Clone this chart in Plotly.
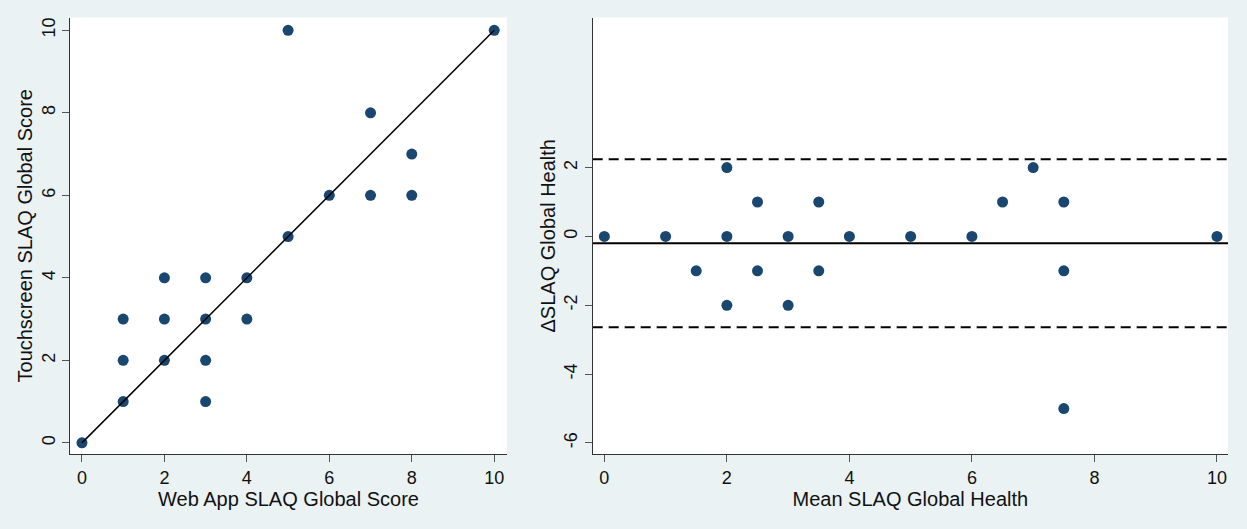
import plotly.graph_objects as go

# Left panel: Web App vs Touchscreen SLAQ global score
web_app = [0, 1, 1, 1, 2, 2, 2, 3, 3, 3, 3, 4, 4, 5, 5, 6, 7, 7, 8, 8, 10]
touchscreen = [0, 1, 2, 3, 2, 3, 4, 1, 2, 3, 4, 3, 4, 5, 10, 6, 6, 8, 6, 7, 10]
identity_x = [0, 10]
identity_y = [0, 10]

# Right panel: Bland-Altman
mean_score = [0, 1, 1.5, 2, 2, 2, 2.5, 2.5, 3, 3, 3.5, 3.5, 4, 5, 6, 6.5, 7, 7.5, 7.5, 7.5, 10]
diff_score = [0, 0, -1, 2, 0, -2, 1, -1, 0, -2, 1, -1, 0, 0, 0, 1, 2, 1, -1, -5, 0]
mean_diff = -0.20
upper_loa = 2.24
lower_loa = -2.64

left_ticks = [0, 2, 4, 6, 8, 10]
right_xticks = [0, 2, 4, 6, 8, 10]
right_yticks = [-6, -4, -2, 0, 2]
right_yticklabels = ["-6", "-4", "-2", "0", "2"]

BG = "#EAF2F3"
NAVY = "#1A476F"
FONT = "Liberation Sans, Arial, sans-serif"
W, H = 1247, 529

fig = go.Figure()
fig.add_trace(go.Scatter(x=web_app, y=touchscreen, mode="markers",
                         marker=dict(color=NAVY, size=11, line=dict(width=0)),
                         xaxis="x", yaxis="y", showlegend=False))
fig.add_trace(go.Scatter(x=identity_x, y=identity_y, mode="lines",
                         line=dict(color="black", width=1.5),
                         xaxis="x", yaxis="y", showlegend=False))
fig.add_trace(go.Scatter(x=mean_score, y=diff_score, mode="markers",
                         marker=dict(color=NAVY, size=11, line=dict(width=0)),
                         xaxis="x2", yaxis="y2", showlegend=False))

for val, dash in [(mean_diff, "solid"), (upper_loa, "10px,6px"), (lower_loa, "10px,6px")]:
    fig.add_shape(type="line", xref="x2 domain", yref="y2", x0=0, x1=1, y0=val, y1=val,
                  line=dict(color="black", width=2, dash=dash), layer="below")

ydom = [1 - 454 / H, 1 - 17.5 / H]
axis_common = dict(showgrid=False, zeroline=False, showline=True, linecolor="#333333",
                   linewidth=1.3, ticks="outside", ticklen=7, tickwidth=1.2,
                   tickcolor="#555555", tickfont=dict(size=18, color="#111111", family=FONT),
                   mirror=False)

fig.update_layout(
    width=W, height=H,
    margin=dict(l=0, r=0, t=0, b=0),
    paper_bgcolor=BG, plot_bgcolor="white",
    font=dict(family=FONT, color="#111111"),
    xaxis=dict(domain=[70 / W, 507 / W], range=[-0.29, 10.31], tickvals=left_ticks,
               title=dict(text="Web App SLAQ Global Score", font=dict(size=20), standoff=2),
               anchor="y", **axis_common),
    yaxis=dict(domain=ydom, range=[-0.27, 10.31], tickvals=left_ticks, tickangle=-90,
               title=dict(text="Touchscreen SLAQ Global Score", font=dict(size=20), standoff=0),
               anchor="x", **axis_common),
    xaxis2=dict(domain=[592.7 / W, 1228 / W], range=[-0.19, 10.18], tickvals=right_xticks,
                title=dict(text="Mean SLAQ Global Health", font=dict(size=20), standoff=2),
                anchor="y2", **axis_common),
    yaxis2=dict(domain=ydom, range=[-6.32, 6.36], tickvals=right_yticks,
                ticktext=right_yticklabels, tickangle=-90,
                title=dict(text="ΔSLAQ Global Health", font=dict(size=20), standoff=0),
                anchor="x2", **axis_common),
)

fig.write_html(
    "out.html",
    config={"displayModeBar": False},
    post_script="document.body.style.margin='0';document.body.style.background='#EAF2F3';"
                "document.body.style.overflow='hidden';",
)
